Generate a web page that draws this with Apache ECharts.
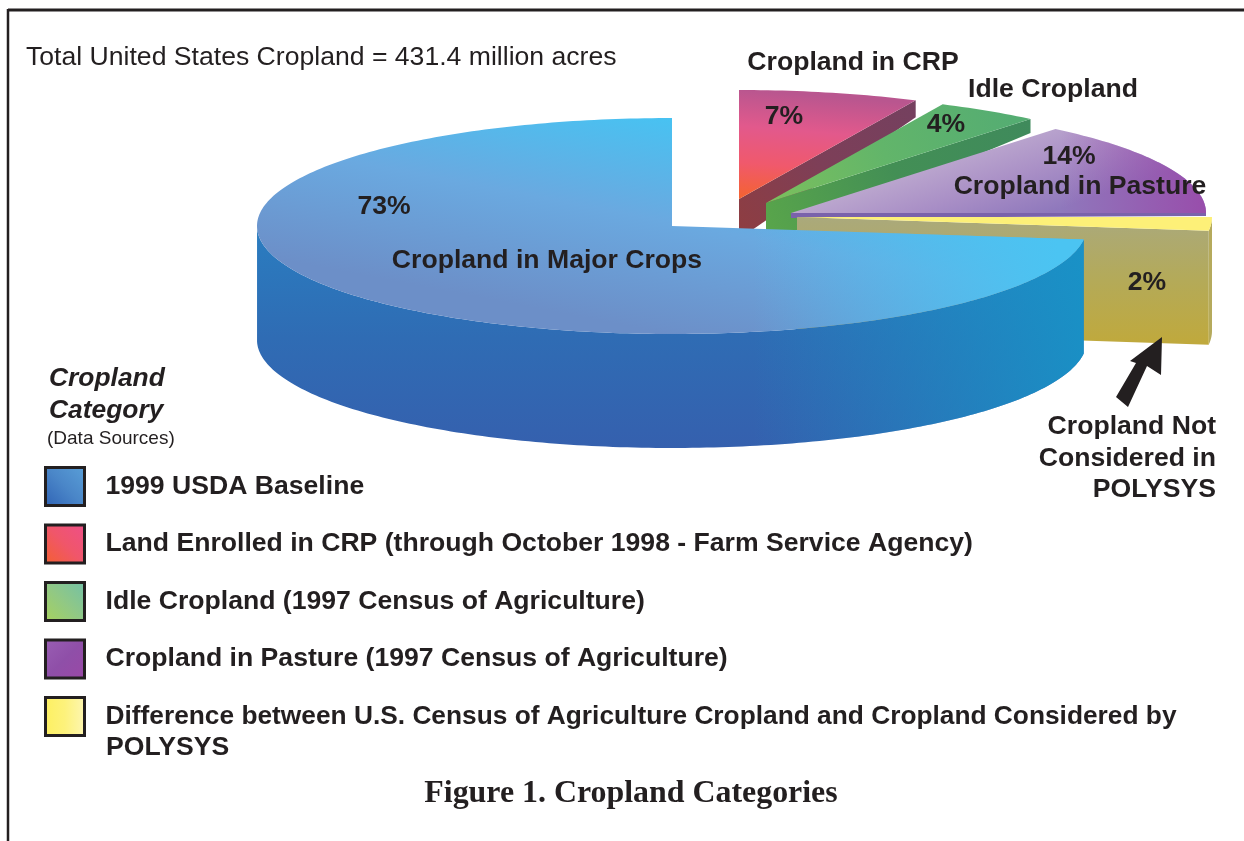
<!DOCTYPE html>
<html>
<head>
<meta charset="utf-8">
<title>Figure 1. Cropland Categories</title>
<style>
  html, body { margin: 0; padding: 0; background: #fff; }
  #main { width: 1244px; height: 841px; }
</style>
</head>
<body>
<div id="main"></div>
<script src="https://cdn.jsdelivr.net/npm/echarts@6/dist/echarts.min.js"></script>
<script>
// percent of cropland, clockwise from 12 o'clock
var sliceNames = ['Land Enrolled in CRP (through October 1998 - Farm Service Agency)', 'Idle Cropland (1997 Census of Agriculture)', 'Cropland in Pasture (1997 Census of Agriculture)', 'Difference between U.S. Census of Agriculture Cropland and Cropland Considered by', '1999 USDA Baseline']
var sliceShares = [7, 4, 14, 2, 73]
var legendOrder = [4, 0, 1, 2, 3]

var INK = '#231f20'
var FONT = '"Liberation Sans", Arial, sans-serif'
var RX = 415
var BIG = 26.6

function grad (x, y, x2, y2, stops, global) {
  return new echarts.graphic.LinearGradient(x, y, x2, y2, stops.map(function (c, i) {
    return { offset: i / (stops.length - 1), color: c }
  }), global)
}

// where each slice sits and how it is shaded (same order as sliceNames)
var looks = [
  { cx: 739, cy: 199, ry: 109, rimT: 17, apexT: 40,
    top: grad(0.05, 0, 0, 1, ['#b9568f', '#e2598c', '#f0596c', '#f4632f']),
    wall: grad(1, 0, 0, 1, ['#74405f', '#7d3f58', '#8f3d40']) },
  { cx: 766, cy: 203, ry: 109, rimT: 14, apexT: 40,
    top: grad(0.9, 0, 0, 1, ['#55ad72', '#62b56a', '#7cc05c']),
    wall: grad(1, 0, 0, 1, ['#3f8a5c', '#438f55', '#5aa64a']) },
  { cx: 791, cy: 213, ry: 109, rimT: 3, apexT: 5,
    top: grad(0.55, 0, 0.62, 1, ['#bda9cf', '#a98fc6', '#8f78bc']),
    topGlow: grad(0.65, 0, 1, 0, ['rgba(154,70,168,0)', 'rgba(154,70,168,0.85)']),
    wall: '#7a62ab' },
  { cx: 797, cy: 217, ry: 109, rimT: 114, apexT: 114,
    top: '#fdf078',
    wall: grad(0, 0, 0, 1, ['#aaa97c', '#b4aa58', '#c0a93c']),
    rimFill: '#b5aa5c' },
  { cx: 672, cy: 226, ry: 108, rimT: 114, apexT: 114,
    top: grad(0.55, 0, 0.5, 1, ['#45c4f3', '#6aa9e0', '#6c8fc8']),
    topGlow: grad(0.6, 0, 0.97, 0, ['rgba(75,196,242,0)', 'rgba(75,196,242,1)']),
    wall: grad(0, 0, 0, 1, ['#2a7dc0', '#2f6cb4', '#3560ae']),
    wallGlow: grad(0.6, 0, 1, 0, ['rgba(22,150,200,0)', 'rgba(22,150,200,0.85)']) }
]

function rimPoint (look, deg) {
  var a = deg * Math.PI / 180
  return [look.cx + RX * Math.sin(a), look.cy - look.ry * Math.cos(a)]
}

function renderSlice (params, api) {
  var look = looks[params.seriesIndex]
  var start = api.value(0) * 3.6
  var end = start + api.value(1) * 3.6
  var apex = [look.cx, look.cy]
  var children = []

  var arc = []
  for (var d = start; d < end; d += 1) arc.push(rimPoint(look, d))
  arc.push(rimPoint(look, end))

  // outer rim, the part in front
  var front = arc.filter(function (p, i) {
    var deg = Math.min(start + i, end)
    return deg >= 90 && deg <= 270
  })
  if (front.length > 1) {
    var down = front.slice().reverse().map(function (p) { return [p[0], p[1] + look.rimT] })
    var rim = front.concat(down)
    children.push({ type: 'polygon', shape: { points: rim }, style: { fill: look.rimFill || look.wall } })
    if (look.wallGlow) children.push({ type: 'polygon', shape: { points: rim }, style: { fill: look.wallGlow } })
  }
  // cut face on the clockwise edge, only when it looks towards the viewer
  if (end < 180) {
    var e = rimPoint(look, end)
    children.push({ type: 'polygon', shape: { points: [apex, e, [e[0], e[1] + look.rimT], [apex[0], apex[1] + look.apexT]] }, style: { fill: look.wall } })
  }
  var topFace = [apex].concat(arc)
  children.push({ type: 'polygon', shape: { points: topFace }, style: { fill: look.top } })
  if (look.topGlow) children.push({ type: 'polygon', shape: { points: topFace }, style: { fill: look.topGlow } })
  return { type: 'group', children: children }
}

var running = 0
var series = sliceNames.map(function (name, i) {
  var row = [running, sliceShares[i]]
  running += sliceShares[i]
  return {
    type: 'custom',
    name: name,
    coordinateSystem: 'none',
    silent: true,
    renderItem: renderSlice,
    data: [row]
  }
})

var swatches = [
  grad(0, 1, 1, 0, ['#2f62b4', '#4a86c8', '#5aa0d8']),
  grad(0, 1, 1, 0, ['#f4602f', '#f0566a', '#ee4f8a']),
  grad(0, 1, 1, 0, ['#a8d25c', '#90c886', '#72c0a8']),
  grad(0, 0, 1, 1, ['#9a5fb4', '#8f4fa8', '#9a48a6']),
  grad(0, 0, 1, 0, ['#fdf060', '#fdf27c', '#fdf6b4'])
]

function txt (x, y, text, size, extra) {
  return {
    type: 'text',
    x: x,
    y: y + 1.5,
    z: 100,
    silent: true,
    style: Object.assign({
      text: text,
      fill: INK,
      fontFamily: FONT,
      fontSize: size,
      fontWeight: 'bold',
      align: 'center',
      verticalAlign: 'middle'
    }, extra || {})
  }
}

var chart = echarts.init(document.getElementById('main'))
chart.setOption({
  animation: false,
  backgroundColor: '#fff',
  legend: {
    orient: 'vertical',
    left: 44,
    top: 466,
    padding: 0,
    icon: 'rect',
    itemWidth: 39,
    itemHeight: 38,
    itemGap: 16.5,
    selectedMode: false,
    textStyle: {
      color: INK,
      fontFamily: FONT,
      fontWeight: 'bold',
      fontSize: BIG,
      padding: [0, 0, 0, 16]
    },
    data: legendOrder.map(function (i, k) {
      var item = {
        name: sliceNames[i],
        itemStyle: { color: swatches[k], borderColor: INK, borderWidth: 3 }
      }
      if (i === 3) item.textStyle = { fontSize: 26.3 }
      return item
    })
  },
  series: series,
  graphic: [
    // frame
    { type: 'line', z: 100, silent: true, shape: { x1: 8, y1: 10, x2: 1244, y2: 10 }, style: { stroke: INK, lineWidth: 3 } },
    { type: 'line', z: 100, silent: true, shape: { x1: 8, y1: 9, x2: 8, y2: 841 }, style: { stroke: INK, lineWidth: 2.5 } },
    // arrow
    { type: 'polygon', z: 100, silent: true, shape: { points: [[1162, 337], [1161, 375], [1147, 366], [1128, 407], [1116, 397], [1136, 363], [1130, 361]] }, style: { fill: INK } },

    txt(26, 56, 'Total United States Cropland = 431.4 million acres', BIG, { align: 'left', fontWeight: 'normal' }),
    txt(853, 61, 'Cropland in CRP', BIG),
    txt(1053, 88, 'Idle Cropland', BIG),
    txt(784, 115, sliceShares[0] + '%', BIG),
    txt(946, 123, sliceShares[1] + '%', BIG),
    txt(1069, 155, sliceShares[2] + '%', BIG),
    txt(1080, 185, 'Cropland in Pasture', BIG),
    txt(1147, 281, sliceShares[3] + '%', BIG),
    txt(384, 205, sliceShares[4] + '%', BIG),
    txt(547, 259, 'Cropland in Major Crops', BIG),
    txt(1216, 425, 'Cropland Not', BIG, { align: 'right' }),
    txt(1216, 457, 'Considered in', BIG, { align: 'right' }),
    txt(1216, 488, 'POLYSYS', BIG, { align: 'right' }),
    txt(49, 377, 'Cropland', 26.4, { align: 'left', fontStyle: 'italic' }),
    txt(49, 409, 'Category', 26.4, { align: 'left', fontStyle: 'italic' }),
    txt(47, 437, '(Data Sources)', 19, { align: 'left', fontWeight: 'normal' }),
    txt(106, 746, 'POLYSYS', BIG, { align: 'left' }),
    txt(631, 792, 'Figure 1. Cropland Categories', 31.9, { fontFamily: '"Liberation Serif", "Times New Roman", serif' })
  ]
})
</script>
</body>
</html>
